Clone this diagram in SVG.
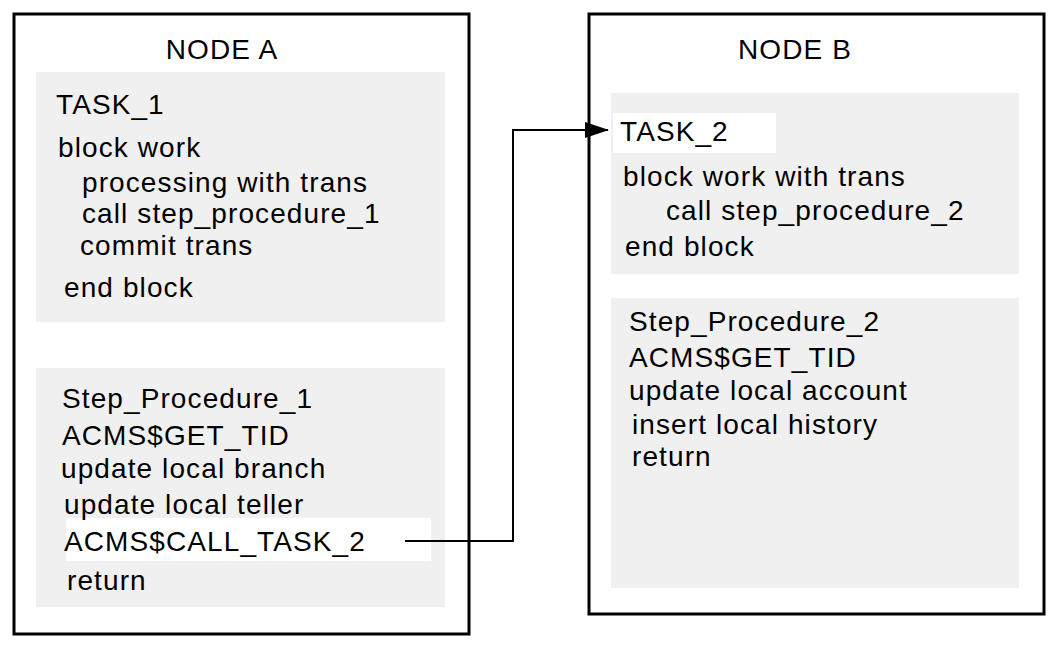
<svg xmlns="http://www.w3.org/2000/svg" width="1058" height="647" viewBox="0 0 1058 647">
<style>
text{font-family:"Liberation Sans",Arial,sans-serif;font-size:28px;letter-spacing:1.1px;fill:#000}
.node{fill:#fff;stroke:#000;stroke-width:3}
.gray{fill:#f0f0f0}
.hl{fill:#fff}
.conn{fill:none;stroke:#000;stroke-width:2}
</style>
<defs><marker id="arr" markerWidth="24" markerHeight="16" refX="23" refY="8" orient="auto" markerUnits="userSpaceOnUse"><path d="M0,0 L24,8 L0,16 Z" fill="#000"/></marker></defs>
<rect width="1058" height="647" fill="#fff"/>
<g id="nodeA">
<rect class="node" x="14" y="14" width="455" height="620"/>
<text x="222" y="59" text-anchor="middle">NODE A</text>
<rect class="gray" x="36" y="72" width="409" height="250"/>
<text x="56" y="114">TASK_1</text>
<text x="58" y="157">block work</text>
<text x="82" y="192">processing with trans</text>
<text x="82" y="223">call step_procedure_1</text>
<text x="80" y="255">commit trans</text>
<text x="64" y="297">end block</text>
<rect class="gray" x="36" y="368" width="409" height="239"/>
<rect class="hl" x="66" y="518" width="365" height="43"/>
<text x="62" y="408">Step_Procedure_1</text>
<text x="62" y="445">ACMS$GET_TID</text>
<text x="61" y="478">update local branch</text>
<text x="64" y="514">update local teller</text>
<text x="64" y="551">ACMS$CALL_TASK_2</text>
<text x="67" y="590">return</text>
</g>
<g id="nodeB">
<rect class="node" x="589" y="14" width="455" height="600"/>
<text x="795" y="59" text-anchor="middle">NODE B</text>
<rect class="gray" x="611" y="93" width="408" height="181"/>
<rect class="hl" x="613" y="113" width="163" height="40"/>
<text x="620" y="141">TASK_2</text>
<text x="623" y="186">block work with trans</text>
<text x="666" y="220">call step_procedure_2</text>
<text x="625" y="256">end block</text>
<rect class="gray" x="611" y="298" width="408" height="290"/>
<text x="629" y="331">Step_Procedure_2</text>
<text x="629" y="367">ACMS$GET_TID</text>
<text x="629" y="400">update local account</text>
<text x="632" y="434">insert local history</text>
<text x="632" y="466">return</text>
</g>
<g id="connectors">
<path class="conn" d="M405,541 H513 V130 H608" marker-end="url(#arr)"/>
</g>
</svg>
